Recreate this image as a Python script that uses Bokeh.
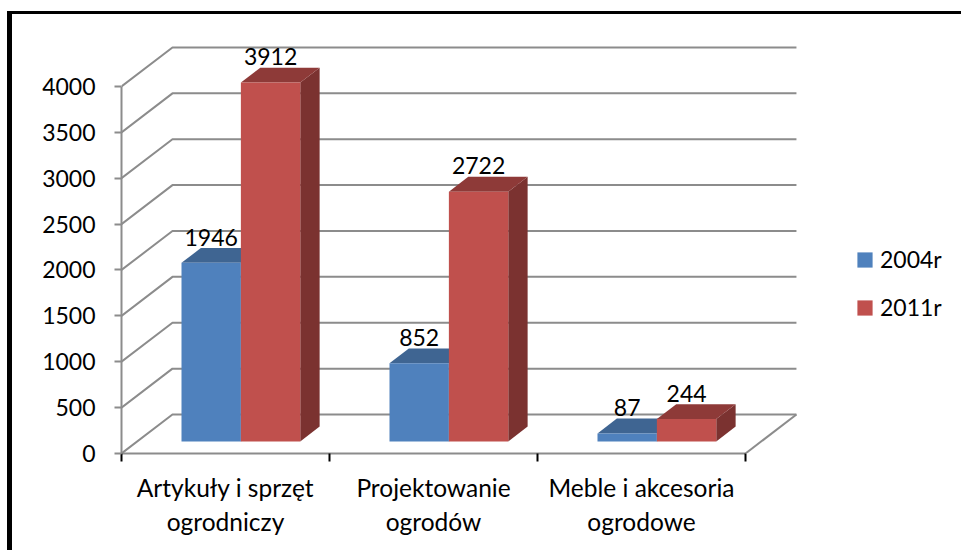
from bokeh.plotting import figure
from bokeh.models import (LinearAxis, FixedTicker, Range1d, Legend, LegendItem, InlineStyleSheet)
from bokeh.core.properties import value
from bokeh.embed import file_html
from bokeh.resources import INLINE

categories = ["Artykuły i sprzęt\nogrodniczy", "Projektowanie\nogrodów", "Meble i akcesoria\nogrodowe"]
series_names = ["2004r", "2011r"]
values_2004 = [1946, 852, 87]
values_2011 = [3912, 2722, 244]
y_ticks = [0, 500, 1000, 1500, 2000, 2500, 3000, 3500, 4000]

FONT = "Lato"
FS = "23px"
GRID = "#8c8c8c"
BLUE = ("#4F81BD", "#3F6592", "#385D8A")
RED = ("#C0504D", "#8E3A38", "#7B3230")

# oblique projection of the chart's depth, in data units
DX, DY = 0.245, 425.0
D0, D1 = 0.31, 0.69
BASE, BW = 0.2125, 0.2855

p = figure(width=961, height=550, output_backend="svg", toolbar_location=None,
           x_range=Range1d(0, 4.0385), y_range=Range1d(0, 4937),
           x_axis_location=None, y_axis_location=None,
           min_border_left=121, min_border_right=0, min_border_top=0, min_border_bottom=97)
p.outline_line_color = None
p.grid.visible = False

# walls and floor
for t in y_ticks:
    p.line([0, DX, 3 + DX], [t, t + DY, t + DY], line_color=GRID, line_width=2)
p.line([3, 3 + DX], [0, DY], line_color=GRID, line_width=2)

legend_items = []
for s, (vals, cols, name) in enumerate(zip([values_2004, values_2011], [BLUE, RED], series_names)):
    xs_front0, xs_front1, y0s, y1s = [], [], [], []
    for i, v in enumerate(vals):
        x0 = i + BASE + s * BW + D0 * DX
        x1 = x0 + BW
        b = D0 * DY
        dd = (D1 - D0)
        # side
        p.patch([x1, x1 + dd * DX, x1 + dd * DX, x1],
                [b, b + dd * DY, b + dd * DY + v, b + v], fill_color=cols[2], line_color=None)
        # top
        p.patch([x0, x1, x1 + dd * DX, x0 + dd * DX],
                [b + v, b + v, b + v + dd * DY, b + v + dd * DY], fill_color=cols[1], line_color=None)
        xs_front0.append(x0); xs_front1.append(x1); y0s.append(b); y1s.append(b + v)
    front = p.quad(left=xs_front0, right=xs_front1, bottom=y0s, top=y1s, fill_color=cols[0], line_color=None)
    legend_items.append(LegendItem(label=name, renderers=[front]))

for s, vals in enumerate([values_2004, values_2011]):
    xs = [i + BASE + s * BW + D0 * DX + BW / 2 for i in range(3)]
    ys = [v + D1 * DY for v in vals]
    p.text(xs, ys, text=[str(v) for v in vals], text_font=value(FONT), text_font_size=value(FS),
           text_color="black", text_align="center", text_baseline="middle", y_offset=-11)

# axes
ya = LinearAxis(ticker=FixedTicker(ticks=y_ticks), bounds=(0, 4000))
ya.axis_line_color = GRID; ya.axis_line_width = 2
ya.major_tick_line_color = GRID; ya.major_tick_line_width = 2
ya.major_tick_in = 0; ya.major_tick_out = 7
ya.minor_tick_line_color = None
ya.major_label_text_font = FONT; ya.major_label_text_font_size = FS
ya.major_label_text_color = "black"; ya.major_label_standoff = 19
p.add_layout(ya, "left")

xa = LinearAxis(ticker=FixedTicker(ticks=[0.5, 1.5, 2.5], minor_ticks=[0, 1, 2, 3]), bounds=(0, 3))
xa.major_label_overrides = {i + 0.5: c for i, c in enumerate(categories)}
xa.axis_line_color = GRID; xa.axis_line_width = 2
xa.major_tick_line_color = None
xa.minor_tick_line_color = "black"; xa.minor_tick_line_width = 2
xa.minor_tick_in = 0; xa.minor_tick_out = 8
xa.major_label_text_font = FONT; xa.major_label_text_font_size = "24.5px"
xa.major_label_text_color = "black"; xa.major_label_standoff = 11
p.add_layout(xa, "below")

# legend
leg = Legend(items=legend_items, location=(734, 132), background_fill_alpha=0, border_line_color=None,
             glyph_width=19, glyph_height=19, label_text_font=FONT, label_text_font_size=FS,
             label_text_color="black", spacing=20, label_standoff=6, padding=0, margin=0)
p.add_layout(leg, "center")

# black frame of the picture
p.stylesheets = [InlineStyleSheet(css="""
:host::before { content: ''; position: absolute; left: 7px; top: 11px; right: 0; bottom: 0;
  border-top: 3px solid black; border-left: 5px solid black; z-index: 5; pointer-events: none; }
""")]

open("out.html", "w").write(file_html(p, INLINE))
